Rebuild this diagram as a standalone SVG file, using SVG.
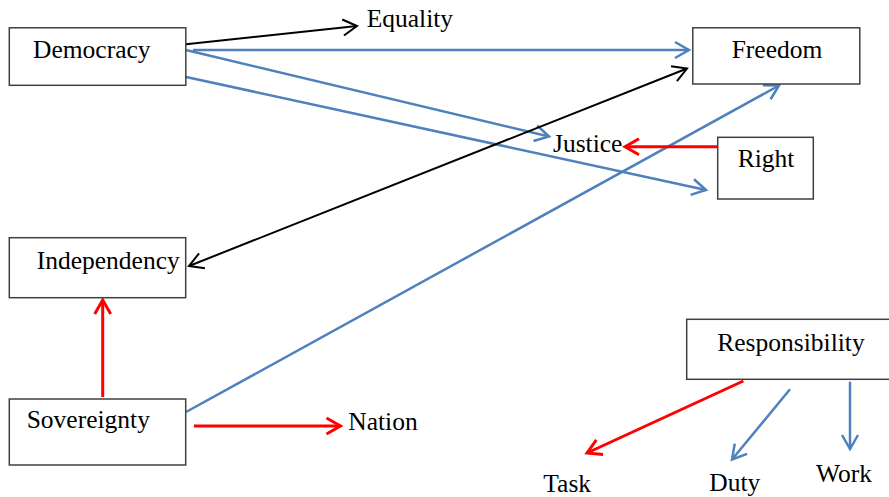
<svg xmlns="http://www.w3.org/2000/svg" width="889" height="497" viewBox="0 0 889 497">
<style>
.box{fill:#fff;stroke:#404040;stroke-width:1.5}
.t{font-family:"Liberation Serif","Times New Roman",serif;font-size:25.5px;fill:#000}
.blue{stroke:#4F81BD;stroke-width:2.5;fill:none}
.black{stroke:#000;stroke-width:2;fill:none}
.red{stroke:#FF0000;stroke-width:3;fill:none}
</style>
<defs>
<marker id="ab" markerUnits="userSpaceOnUse" viewBox="-18 -12 22 24" markerWidth="22" markerHeight="24" refX="0" refY="0" orient="auto-start-reverse"><path d="M-14,-8 L0,0 L-14,8" fill="none" stroke="#4F81BD" stroke-width="2.5"/></marker>
<marker id="ak" markerUnits="userSpaceOnUse" viewBox="-18 -12 22 24" markerWidth="22" markerHeight="24" refX="0" refY="0" orient="auto-start-reverse"><path d="M-14,-8 L0,0 L-14,8" fill="none" stroke="#000" stroke-width="2"/></marker>
<marker id="ar" markerUnits="userSpaceOnUse" viewBox="-18 -12 22 24" markerWidth="22" markerHeight="24" refX="0" refY="0" orient="auto-start-reverse"><path d="M-14,-8 L0,0 L-14,8" fill="none" stroke="#FF0000" stroke-width="3"/></marker>
</defs>
<g id="connectors">
<line class="black" x1="186" y1="44.3" x2="357" y2="26" marker-end="url(#ak)"/>
<line class="blue" x1="193" y1="50" x2="689" y2="50" marker-end="url(#ab)"/>
<line class="blue" x1="186" y1="50" x2="549" y2="136.5" marker-end="url(#ab)"/>
<line class="blue" x1="185" y1="76.7" x2="706" y2="190" marker-end="url(#ab)"/>
<line class="black" x1="189" y1="266" x2="687" y2="68.5" marker-start="url(#ak)" marker-end="url(#ak)"/>
<line class="blue" x1="186" y1="412" x2="779" y2="85.5" marker-end="url(#ab)"/>
<line class="red" x1="717.5" y1="146.7" x2="625" y2="146.7" marker-end="url(#ar)"/>
<line class="red" x1="102.7" y1="397" x2="102.7" y2="300" marker-end="url(#ar)"/>
<line class="red" x1="194" y1="426" x2="340.5" y2="426" marker-end="url(#ar)"/>
<line class="red" x1="743.3" y1="381" x2="587" y2="453" marker-end="url(#ar)"/>
<line class="blue" x1="790" y1="389.3" x2="732" y2="459.5" marker-end="url(#ab)"/>
<line class="blue" x1="850" y1="381.7" x2="850" y2="449" marker-end="url(#ab)"/>
</g>
<g id="democracy"><rect class="box" x="9.3" y="27.8" width="176.5" height="57.5"/><text class="t" x="33" y="58.3">Democracy</text></g>
<g id="equality"><text class="t" x="366.7" y="26.7">Equality</text></g>
<g id="freedom"><rect class="box" x="692.8" y="27.8" width="167" height="56.2"/><text class="t" x="731.7" y="58">Freedom</text></g>
<g id="justice"><text class="t" x="553" y="151.7">Justice</text></g>
<g id="right"><rect class="box" x="717.7" y="137.3" width="95.6" height="61.7"/><text class="t" x="737.7" y="166.7">Right</text></g>
<g id="independency"><rect class="box" x="9.3" y="237.7" width="176.4" height="60"/><text class="t" x="36.7" y="269.3">Independency</text></g>
<g id="sovereignty"><rect class="box" x="9.3" y="399" width="176.4" height="66"/><text class="t" x="26.7" y="428.3">Sovereignty</text></g>
<g id="nation"><text class="t" x="348.3" y="430">Nation</text></g>
<g id="responsibility"><rect class="box" x="686.7" y="319.3" width="205" height="60"/><text class="t" x="717.3" y="350.7">Responsibility</text></g>
<g id="task"><text class="t" x="543.3" y="491.5">Task</text></g>
<g id="duty"><text class="t" x="709.3" y="490.8">Duty</text></g>
<g id="work"><text class="t" x="816" y="481.7">Work</text></g>
</svg>
